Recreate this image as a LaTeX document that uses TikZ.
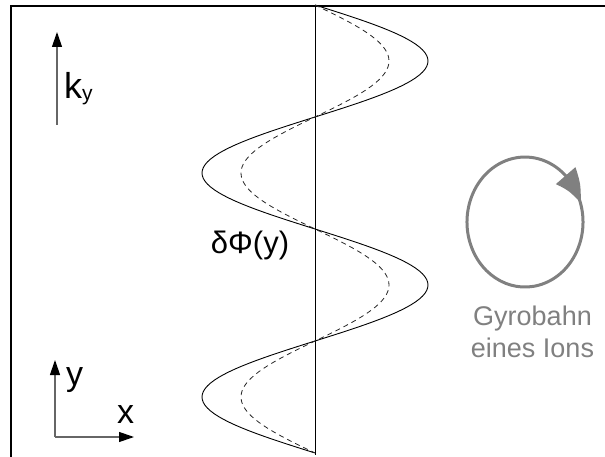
\documentclass[tikz,border=0pt]{standalone}
\usepackage{fontspec}
\setmainfont{Liberation Sans}
\usetikzlibrary{arrows.meta,bending}

\begin{document}
\begin{tikzpicture}[x=1pt,y=-1pt,
    frame/.style={line width=1.4pt},
    axis/.style={draw=black!60,line width=1.2pt,-{Triangle[length=15pt,width=10pt,black]}},
    wave/.style={line width=0.9pt},
    dwave/.style={line width=0.8pt,black!85,dash pattern=on 5pt off 4pt},
    gyro/.style={draw=black!50,line width=3pt},
    lbl/.style={inner sep=0pt,font=\fontsize{34}{40}\selectfont}]
  \useasboundingbox (0,0) rectangle (605,457);
  % frame
  \coordinate (ftopright) at (605,6);
  \coordinate (fcorner) at (11,6);
  \coordinate (fbottom) at (11,457);
  \draw[frame] (ftopright) -- (fcorner) -- (fbottom);
  % k_y arrow
  \coordinate (kfoot) at (57,125);
  \coordinate (ktip) at (57,32);
  \draw[axis] (kfoot) -- (ktip);
  \node[lbl,anchor=base west,font=\fontsize{36}{40}\selectfont] (klabel) at (64,99)
    {k\raisebox{-2pt}{\fontsize{21}{21}\selectfont y}};
  % x-y axes
  \coordinate (origin) at (55,437);
  \coordinate (ytip) at (55,360);
  \coordinate (xtip) at (134,437);
  \draw[axis] (origin) -- (ytip);
  \draw[axis] (origin) -- (xtip);
  \node[lbl,anchor=base west] (ylabel) at (66,385) {y};
  \node[lbl,anchor=base west] (xlabel) at (117,423) {x};
  % field line and potential
  \coordinate (ltop) at (315,5);
  \coordinate (lbottom) at (315,455);
  \draw[line width=0.9pt] (ltop) -- (lbottom);
  \draw[wave] plot[domain=0:4,samples=161] ({315+113*sin(180*\x)},{5+112*\x});
  \draw[dwave] plot[domain=0:4,samples=161] ({315+74*sin(180*\x)},{5+112*\x});
  \node[inner sep=0pt,anchor=base,font=\fontsize{31}{36}\selectfont] (phi) at (250,254) {δΦ(y)};
  % gyro orbit
  \coordinate (gyrostart) at (579.5,199.8);
  \draw[gyro,-{Triangle[length=32pt,width=25pt,bend]}] (gyrostart)
    arc[start angle=-380,end angle=-17,x radius=58,y radius=65];
  \node[inner sep=0pt,anchor=north,align=center,text=black!50,
    font=\fontsize{27}{32}\selectfont] (gyrolabel) at (532.5,306) {Gyrobahn\\eines Ions};
\end{tikzpicture}
\end{document}
